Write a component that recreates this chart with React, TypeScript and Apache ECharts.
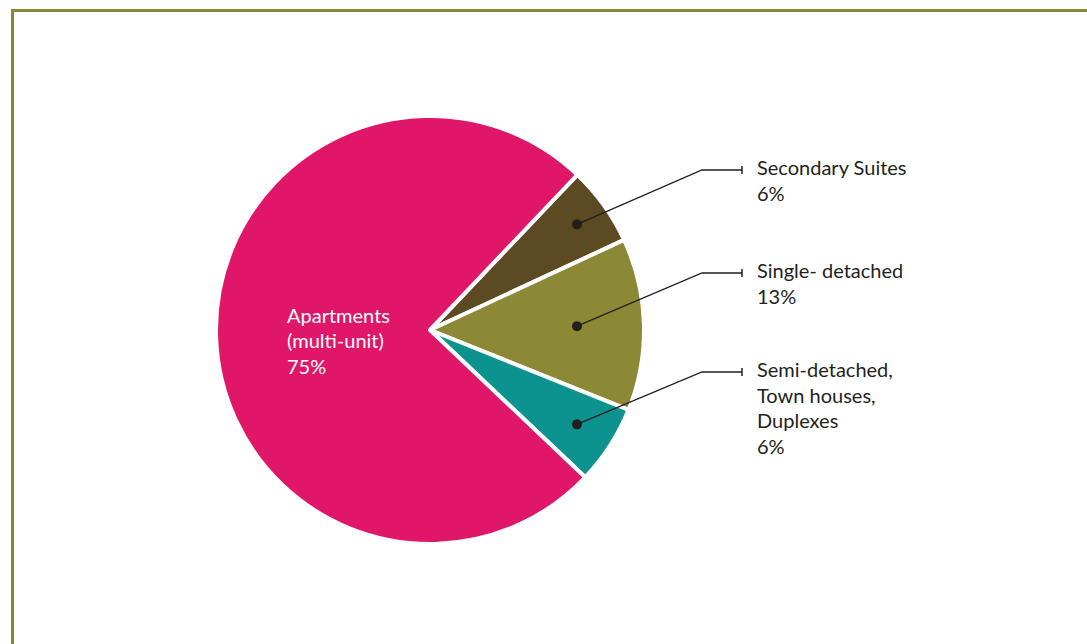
import React, { useEffect, useRef } from "react";
import * as echarts from "echarts";

const categories = [
  "Secondary Suites",
  "Single- detached",
  "Semi-detached,\nTown houses,\nDuplexes",
  "Apartments\n(multi-unit)",
];
const values = [6, 13, 6, 75];
const colors = ["#5b4a22", "#8c8936", "#0c9390", "#e01768"];

const CX = 430;
const CY = 330;
const R = 214;
const START = 46.5;
const DOT_X = 577;
const ELBOW_X = 702;
const END_X = 742;
const TEXT_X = 757;
const ELBOW_Y = [170, 273, 372];
const LINE_H = 25.5;
const FONT = "Lato";

export default function App() {
  const ref = useRef<HTMLDivElement>(null);
  useEffect(() => {
    document.body.style.margin = "0";
    const chart = echarts.init(ref.current!, undefined, { renderer: "svg" });
    const total = values.reduce((a, b) => a + b, 0);
    const mids: number[] = [];
    let acc = START;
    values.forEach((v) => {
      const sweep = (v / total) * 360;
      mids.push(acc - sweep / 2);
      acc -= sweep;
    });
    const dotY = mids.map((m) => CY - (DOT_X - CX) * Math.tan((m * Math.PI) / 180));

    const graphics: any[] = [
      {
        type: "rect",
        shape: { x: 12.5, y: 10.5, width: 1200, height: 800 },
        style: { fill: "none", stroke: "#8a8838", lineWidth: 3 },
        silent: true,
      },
    ];
    for (let i = 0; i < 3; i++) {
      graphics.push({
        type: "polyline",
        shape: {
          points: [
            [DOT_X, dotY[i]],
            [ELBOW_X, ELBOW_Y[i]],
            [END_X, ELBOW_Y[i]],
          ],
        },
        style: { stroke: "#231f20", lineWidth: 1.3, fill: "none" },
        z: 100,
      });
      graphics.push({
        type: "circle",
        shape: { cx: DOT_X, cy: dotY[i], r: 5 },
        style: { fill: "#231f20" },
        z: 101,
      });
      graphics.push({
        type: "line",
        shape: { x1: END_X, y1: ELBOW_Y[i] - 4, x2: END_X, y2: ELBOW_Y[i] + 4 },
        style: { stroke: "#231f20", lineWidth: 1.5 },
        z: 101,
      });
    }

    chart.setOption({
      animation: false,
      graphic: graphics,
      series: [
        {
          type: "pie",
          center: [CX, CY],
          radius: [0, R],
          startAngle: START,
          clockwise: true,
          avoidLabelOverlap: false,
          itemStyle: { borderColor: "#ffffff", borderWidth: 4 },
          emphasis: { disabled: true },
          labelLine: { show: false },
          data: categories.map((c, i) => ({
            name: c,
            value: values[i],
            itemStyle: { color: colors[i] },
            label: {
              show: true,
              position: i === 3 ? "inside" : "outside",
              color: i === 3 ? "#ffffff" : "#231f20",
              fontFamily: FONT,
              fontSize: 20,
              lineHeight: LINE_H,
              align: "left",
              formatter: (p: any) => `${p.name}\n${p.value}%`,
            },
          })),
          labelLayout: (p: any) => {
            if (p.dataIndex === 3) {
              return { x: 287, y: 302, align: "left", verticalAlign: "top" };
            }
            const i = p.dataIndex;
            return {
              x: TEXT_X,
              y: ELBOW_Y[i] - LINE_H / 2 - 3,
              align: "left",
              verticalAlign: "top",
            };
          },
        },
      ],
    });
    return () => chart.dispose();
  }, []);
  return <div ref={ref} style={{ width: 1087, height: 644 }} />;
}
